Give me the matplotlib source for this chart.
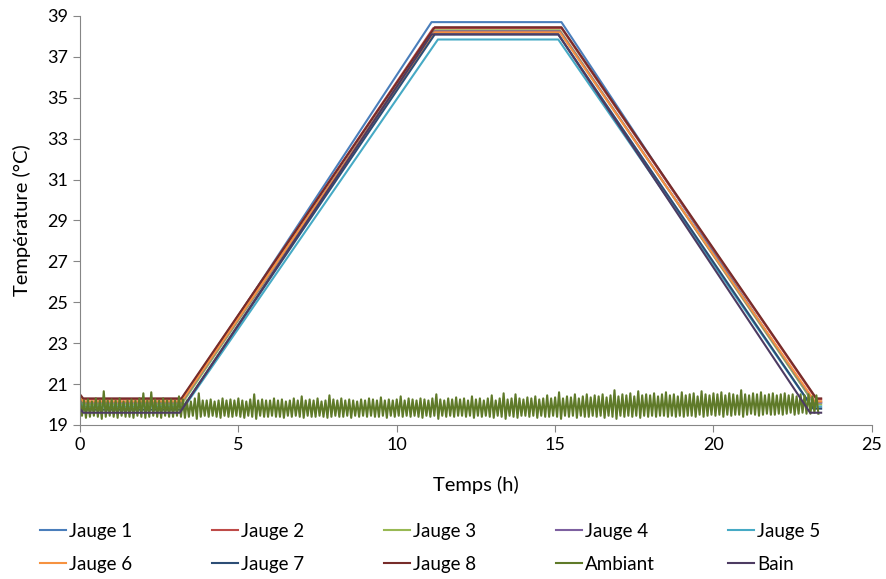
import numpy as np
import matplotlib
matplotlib.use("Agg")
import matplotlib.pyplot as plt

plt.rcParams['font.family'] = ['Lato', 'DejaVu Sans']

# Jauges : points clés (temps en h, température en °C)
names = ["Jauge 1", "Jauge 2", "Jauge 3", "Jauge 4", "Jauge 5",
         "Jauge 6", "Jauge 7", "Jauge 8", "Bain"]
colors = ["#4A7EBB", "#BE4B48", "#98B954", "#7D60A0", "#46AAC5",
          "#F69240", "#2C4D75", "#772C2A", "#4D3B62"]

t_j1 = [0, 0.1, 3.2, 11.1, 15.2, 23.15, 23.4]
T_j1 = [20.4, 20.1, 20.1, 38.7, 38.7, 20.1, 20.1]
t_j2 = [0, 0.1, 3.2, 11.15, 15.2, 23.25, 23.4]
T_j2 = [20.45, 20.25, 20.25, 38.4, 38.4, 20.25, 20.25]
t_j3 = [0, 0.1, 3.2, 11.2, 15.15, 23.2, 23.4]
T_j3 = [20.2, 20.0, 20.0, 38.3, 38.3, 20.0, 20.0]
t_j4 = [0, 0.1, 3.2, 11.2, 15.15, 23.2, 23.4]
T_j4 = [20.3, 20.1, 20.1, 38.25, 38.25, 20.1, 20.1]
t_j5 = [0, 0.1, 3.3, 11.3, 15.1, 23.1, 23.4]
T_j5 = [20.1, 19.9, 19.9, 37.85, 37.85, 19.9, 19.9]
t_j6 = [0, 0.1, 3.2, 11.2, 15.15, 23.2, 23.4]
T_j6 = [20.35, 20.15, 20.15, 38.2, 38.2, 20.15, 20.15]
t_j7 = [0, 0.1, 3.2, 11.2, 15.1, 23.15, 23.4]
T_j7 = [19.95, 19.75, 19.75, 38.1, 38.1, 19.8, 19.8]
t_j8 = [0, 0.1, 3.2, 11.2, 15.2, 23.25, 23.4]
T_j8 = [20.5, 20.3, 20.3, 38.45, 38.45, 20.3, 20.3]
t_bain = [0, 0.1, 3.15, 11.1, 15.1, 23.05, 23.4]
T_bain = [19.8, 19.6, 19.6, 38.1, 38.1, 19.6, 19.6]

# Ambiant : maxima et minima successifs (un cycle ~0.125 h)
amb_peaks = [
    20.35, 20.2, 20.25, 20.15, 20.3, 20.2, 20.65, 20.2,
    20.25, 20.2, 20.3, 20.15, 20.2, 20.25, 20.2, 20.3,
    20.55, 20.2, 20.6, 20.25, 20.2, 20.3, 20.2, 20.25,
    20.2, 20.4, 20.25, 20.2, 20.15, 20.3, 20.55, 20.2,
    20.2, 20.25, 20.15, 20.2, 20.3, 20.2, 20.25, 20.2,
    20.3, 20.2, 20.15, 20.25, 20.5, 20.2, 20.25, 20.2,
    20.2, 20.3, 20.2, 20.25, 20.15, 20.2, 20.3, 20.2,
    20.4, 20.2, 20.25, 20.2, 20.3, 20.15, 20.2, 20.45,
    20.25, 20.2, 20.3, 20.2, 20.25, 20.2, 20.15, 20.25,
    20.2, 20.3, 20.25, 20.2, 20.35, 20.2, 20.25, 20.2,
    20.25, 20.4, 20.2, 20.3, 20.25, 20.2, 20.3, 20.25,
    20.2, 20.3, 20.5, 20.25, 20.2, 20.3, 20.25, 20.35,
    20.25, 20.3, 20.2, 20.4, 20.25, 20.3, 20.2, 20.3,
    20.45, 20.2, 20.3, 20.55, 20.25, 20.3, 20.5, 20.3,
    20.25, 20.35, 20.3, 20.4, 20.25, 20.3, 20.45, 20.3,
    20.35, 20.6, 20.3, 20.4, 20.35, 20.5, 20.3, 20.4,
    20.5, 20.35, 20.45, 20.4, 20.5, 20.35, 20.45, 20.7,
    20.4, 20.5, 20.45, 20.55, 20.4, 20.65, 20.45, 20.5,
    20.45, 20.55, 20.4, 20.5, 20.6, 20.45, 20.5, 20.4,
    20.6, 20.45, 20.5, 20.55, 20.4, 20.65, 20.5, 20.45,
    20.55, 20.5, 20.6, 20.45, 20.55, 20.5, 20.45, 20.7,
    20.5, 20.45, 20.55, 20.5, 20.6, 20.45, 20.5, 20.55,
    20.45, 20.5, 20.55, 20.45, 20.5, 20.4, 20.5, 20.45,
    20.5, 20.4, 20.45,
]
amb_troughs = [
    19.45, 19.35, 19.4, 19.45, 19.4, 19.3, 19.4, 19.45,
    19.4, 19.35, 19.45, 19.4, 19.4, 19.35, 19.45, 19.4,
    19.35, 19.4, 19.45, 19.4, 19.35, 19.45, 19.4, 19.4,
    19.45, 19.4, 19.35, 19.4, 19.45, 19.3, 19.4, 19.45,
    19.4, 19.45, 19.4, 19.35, 19.45, 19.4, 19.4, 19.45,
    19.4, 19.35, 19.45, 19.4, 19.3, 19.45, 19.4, 19.4,
    19.45, 19.4, 19.4, 19.35, 19.45, 19.4, 19.45, 19.4,
    19.35, 19.45, 19.4, 19.4, 19.45, 19.4, 19.35, 19.4,
    19.45, 19.4, 19.4, 19.45, 19.35, 19.45, 19.4, 19.45,
    19.4, 19.45, 19.4, 19.4, 19.45, 19.35, 19.45, 19.4,
    19.45, 19.4, 19.45, 19.4, 19.45, 19.4, 19.35, 19.45,
    19.4, 19.45, 19.3, 19.45, 19.4, 19.45, 19.4, 19.45,
    19.45, 19.4, 19.45, 19.35, 19.45, 19.4, 19.45, 19.4,
    19.35, 19.45, 19.4, 19.3, 19.45, 19.4, 19.35, 19.45,
    19.45, 19.4, 19.45, 19.35, 19.45, 19.4, 19.4, 19.45,
    19.4, 19.3, 19.45, 19.4, 19.45, 19.35, 19.45, 19.4,
    19.4, 19.45, 19.4, 19.45, 19.35, 19.45, 19.4, 19.3,
    19.45, 19.4, 19.45, 19.4, 19.45, 19.35, 19.45, 19.4,
    19.45, 19.4, 19.45, 19.45, 19.4, 19.45, 19.4, 19.45,
    19.4, 19.45, 19.45, 19.4, 19.5, 19.4, 19.45, 19.5,
    19.45, 19.5, 19.4, 19.5, 19.45, 19.5, 19.5, 19.4,
    19.5, 19.55, 19.5, 19.45, 19.5, 19.55, 19.5, 19.5,
    19.55, 19.5, 19.55, 19.6, 19.5, 19.55, 19.6, 19.55,
    19.55, 19.6, 19.55,
]

amb = np.ravel(np.column_stack([amb_peaks, amb_troughs]))
t_amb = np.arange(len(amb)) * 0.0625

series_t = [t_j1, t_j2, t_j3, t_j4, t_j5, t_j6, t_j7, t_j8]
series_T = [T_j1, T_j2, T_j3, T_j4, T_j5, T_j6, T_j7, T_j8]

fig = plt.figure(figsize=(8.86, 5.79), dpi=100)
ax = fig.add_axes([0.0903, 0.266, 0.8937, 0.7064])

handles = {}
for name, c, t, T in zip(names[:8], colors[:8], series_t, series_T):
    handles[name], = ax.plot(t, T, color=c, lw=1.5, label=name)
handles["Ambiant"], = ax.plot(t_amb, amb, color="#5F7A29", lw=1.5, label="Ambiant")
handles["Bain"], = ax.plot(t_bain, T_bain, color=colors[8], lw=1.5, label="Bain")

ax.set_xlim(0, 25)
ax.set_ylim(19, 39)
ax.set_xticks(np.arange(0, 26, 5))
ax.set_yticks(np.arange(19, 40, 2))
for s in ["top", "right"]:
    ax.spines[s].set_visible(False)
for s in ["left", "bottom"]:
    ax.spines[s].set_color("#868686")
ax.tick_params(direction="out", length=5, color="#868686", labelsize=13)
ax.set_xlabel("Temps (h)", fontsize=14.5, labelpad=17)
ax.set_ylabel("Température (°C)", fontsize=14.5, labelpad=12)

# légende : 5 colonnes de largeur égale, 2 lignes
columns = [["Jauge 1", "Jauge 6"], ["Jauge 2", "Jauge 7"], ["Jauge 3", "Jauge 8"],
           ["Jauge 4", "Ambiant"], ["Jauge 5", "Bain"]]
for i, col in enumerate(columns):
    leg = fig.legend([handles[n] for n in col], col, loc="upper left",
                     bbox_to_anchor=((40 + 172 * i) / 886, 0.097),
                     frameon=False, fontsize=13.5, handlelength=1.4,
                     handletextpad=0.15, labelspacing=0.85, borderpad=0,
                     borderaxespad=0)

fig.savefig("out.png", dpi=100)
